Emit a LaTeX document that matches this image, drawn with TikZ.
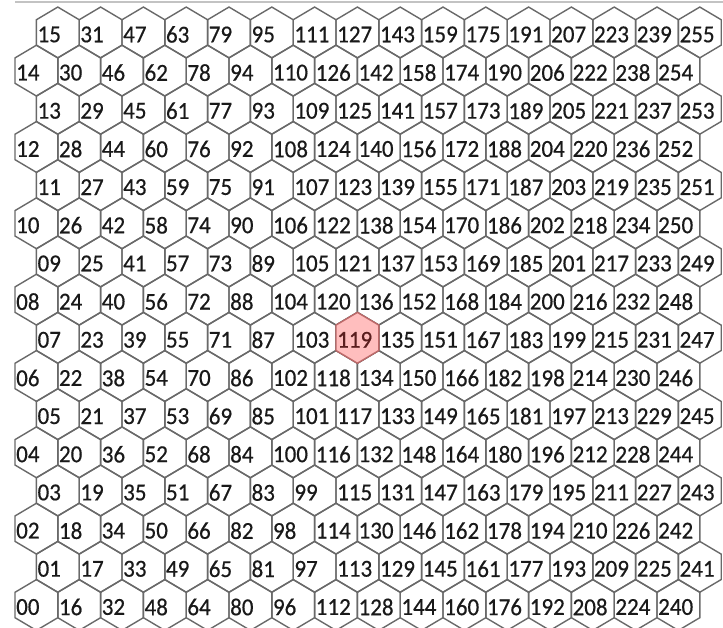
\documentclass[tikz,border=0pt]{standalone}
\usepackage{fontspec}
\setmainfont{Carlito}
\newfontfamily\hexfont{Carlito}[FakeBold=0.5]
\definecolor{hexline}{RGB}{105,105,105}
\definecolor{hexfillhi}{RGB}{255,190,190}
\definecolor{hexlinehi}{RGB}{190,105,105}
\definecolor{labeltext}{RGB}{25,25,25}
\definecolor{labelhi}{RGB}{90,30,30}
\definecolor{topline}{RGB}{195,195,195}
\tikzset{
  hexside/.style={draw=hexline, line width=1.4pt, line join=miter},
  hexhi/.style={draw=hexlinehi, fill=hexfillhi, line width=1.4pt},
  hexlabel/.style={anchor=west, inner sep=0pt, text=labeltext, font=\hexfont\fontsize{23}{24}\selectfont},
  toprule/.style={draw=topline, line width=1.2pt}
}
\newcommand{\hexpath}{(0,-25.4) -- (21.4,-12.7) -- (21.4,12.7) -- (0,25.4) -- (-21.4,12.7) -- (-21.4,-12.7) -- cycle}
\begin{document}
\begin{tikzpicture}[x=1pt,y=-1pt]
\useasboundingbox (0,0) rectangle (723,628);
\fill[white] (0,0) rectangle (723,628);
\coordinate (tl) at (15,2);
\coordinate (tr) at (723,2);
\draw[toprule] (tl) -- (tr);
% hexagons
\foreach \c in {0,...,15}{
  \foreach \r in {0,...,15}{
    \pgfmathtruncatemacro{\n}{16*\c+\r}
    \pgfmathsetmacro{\cx}{36.4+42.8*\c+21.4*mod(\r,2)}
    \pgfmathsetmacro{\cy}{605-38.17*\r}
    \coordinate (h\n) at (\cx,\cy);
    \draw[hexside,shift={(\cx,\cy)}] \hexpath;
  }
}
% highlighted cell 119 (column 7, row 7)
\draw[hexhi,shift={(h119)}] \hexpath;
% labels
\foreach \c in {0,...,15}{
  \foreach \r in {0,...,15}{
    \pgfmathtruncatemacro{\n}{16*\c+\r}
    \pgfmathsetmacro{\cx}{36.4+42.8*\c+21.4*mod(\r,2)-20.4}
    \pgfmathsetmacro{\cy}{605-38.17*\r+2}
    \ifnum\n=119
      \node[hexlabel,text=labelhi] (l\n) at (\cx,\cy) {\scalebox{1}[1.06]{\n}};
    \else
      \node[hexlabel] (l\n) at (\cx,\cy) {\scalebox{1}[1.06]{\ifnum\n<10 0\fi\n}};
    \fi
  }
}
\end{tikzpicture}
\end{document}
